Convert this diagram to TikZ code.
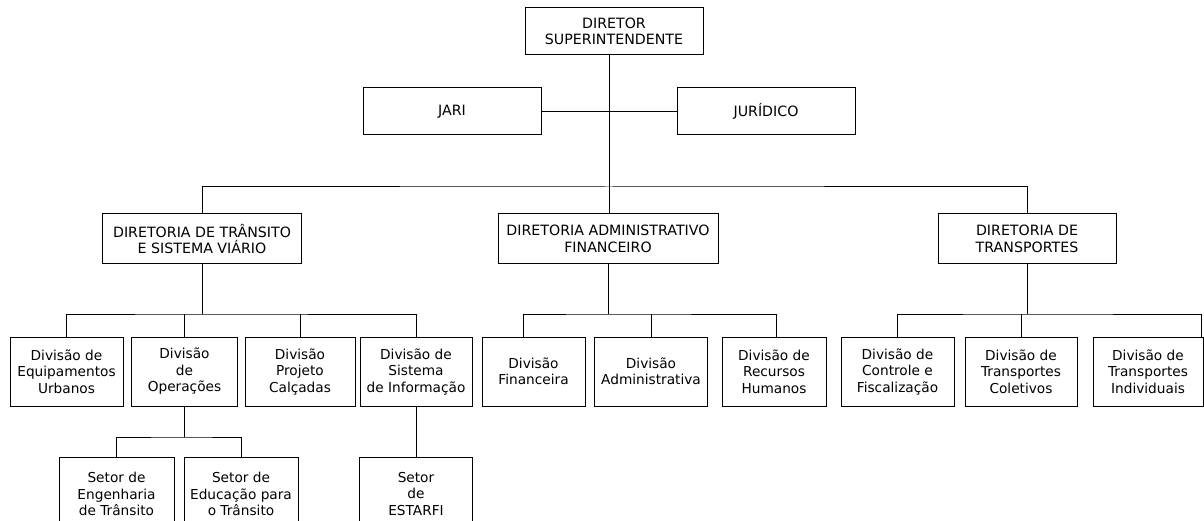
\documentclass[tikz,border=0pt]{standalone}
\usepackage{fontspec}
\setmainfont{DejaVu Sans}

\begin{document}
\begin{tikzpicture}[x=1pt, y=-1pt, line width=1pt,
    box/.style={rectangle, draw, inner sep=0pt, align=center, font=\fontsize{13.7}{16.5}\selectfont},
    topbox/.style={box, minimum width=178pt, minimum height=47pt, font=\fontsize{14.2}{16.5}\selectfont},
    dirbox/.style={box, minimum height=50pt, font=\fontsize{14.2}{16.5}\selectfont},
    divbox/.style={box, minimum height=69pt},
    setorbox/.style={box, minimum height=74pt}
]
\useasboundingbox (0,0) rectangle (1204,521);
\clip (0,0) rectangle (1204,521);

\node[topbox] (dir) at (614,31.5) {DIRETOR\\SUPERINTENDENTE};
\node[topbox] (jari) at (452,111.5) {JARI};
\node[topbox] (jur) at (766,111.5) {JURÍDICO};

\node[dirbox, minimum width=199pt] (dtran) at (202,239) {DIRETORIA DE TRÂNSITO\\E SISTEMA VIÁRIO};
\node[dirbox, minimum width=220pt] (dadm) at (608,239) {DIRETORIA ADMINISTRATIVO\\FINANCEIRO};
\node[dirbox, minimum width=178pt] (dtrp) at (1027,239) {DIRETORIA DE\\TRANSPORTES};

\node[divbox, minimum width=113pt] (equip) at (66.5,371.5) {Divisão de\\Equipamentos\\Urbanos};
\node[divbox, minimum width=106pt] (oper) at (184.5,371.5) {Divisão\\de\\Operações};
\node[divbox, minimum width=110pt] (proj) at (300,371.5) {Divisão\\Projeto\\Calçadas};
\node[divbox, minimum width=112pt] (sist) at (416,371.5) {Divisão de\\Sistema\\de Informação};
\node[divbox, minimum width=103pt] (fin) at (533.5,371.5) {Divisão\\Financeira};
\node[divbox, minimum width=113pt] (adm) at (651,371.5) {Divisão\\Administrativa};
\node[divbox, minimum width=104pt] (rh) at (774,371.5) {Divisão de\\Recursos\\Humanos};
\node[divbox, minimum width=113pt] (ctrl) at (897.5,371.5) {Divisão de\\Controle e\\Fiscalização};
\node[divbox, minimum width=112pt] (col) at (1021,371.5) {Divisão de\\Transportes\\Coletivos};
\node[divbox, minimum width=110pt] (ind) at (1148,371.5) {Divisão de\\Transportes\\Individuais};

\node[setorbox, minimum width=115pt] (eng) at (116.5,494) {Setor de\\Engenharia\\de Trânsito};
\node[setorbox, minimum width=114pt] (edu) at (241,494) {Setor de\\Educação para\\o Trânsito};
\node[setorbox, minimum width=113pt] (est) at (416,494) {Setor\\de\\ESTARFI};

\coordinate (hub) at (609,187);
\coordinate (tbar) at (202,314);
\coordinate (abar) at (608,314);
\coordinate (pbar) at (1027,314);
\coordinate (obar) at (184.5,437);

\draw (dir.south -| hub) -- (hub);
\draw (jari) -- (jur);
\draw (dtran.north) |- (hub) -| (dtrp.north);
\draw (hub) -- (hub |- dadm.north);

\draw (dtran) -- (tbar);
\draw (equip.north) |- (tbar) -| (sist.north);
\draw (oper.north) -- (oper.north |- tbar);
\draw (proj.north) -- (proj.north |- tbar);

\draw (dadm) -- (abar);
\draw ([xshift=-10pt]fin.north) |- (abar) -| ([xshift=2pt]rh.north);
\draw (adm.north) -- (adm.north |- abar);

\draw (dtrp) -- (pbar);
\draw (ctrl.north) |- (pbar) -| ([xshift=53pt]ind.north);
\draw (col.north) -- (col.north |- pbar);

\draw (oper) -- (obar);
\draw (eng.north) |- (obar) -| (edu.north);
\draw (sist) -- (est);
\end{tikzpicture}
\end{document}
